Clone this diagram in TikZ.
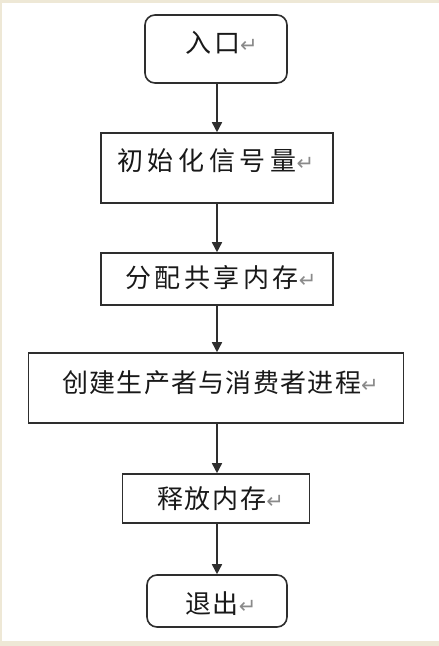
\documentclass[tikz,border=0pt]{standalone}
\usepackage{fontspec}
\newfontfamily\cjk{Noto Sans CJK SC}
\newfontfamily\dejavu{DejaVu Sans}
\usetikzlibrary{arrows.meta}
\definecolor{framebg}{HTML}{EEE8D6}
\definecolor{linec}{HTML}{2E2E2E}
\definecolor{retc}{HTML}{8A8A8A}
\newcommand{\retmark}{{\dejavu\fontsize{21pt}{21pt}\selectfont\textcolor{retc}{↵}}}
\newcommand{\lspc}[1]{\addfontfeature{LetterSpace=#1}}
\begin{document}
\begin{tikzpicture}[x=1pt,y=-1pt,
  boxs/.style={draw=linec,line width=1.6pt,inner sep=0pt},
  rbox/.style={boxs,rounded corners=10pt},
  lbl/.style={anchor=west,inner sep=0pt,font=\cjk\fontsize{26pt}{26pt}\selectfont,text=black!90},
  flow/.style={draw=linec,line width=1.6pt,-{Triangle[width=10pt,length=10pt]}}]
\useasboundingbox (0,0) rectangle (439,646);
\fill[framebg] (0,0) rectangle (439,646);
\fill[white] (2,3) rectangle (439,641);
% boxes
\node[rbox,minimum width=142pt,minimum height=68pt] (entry) at (216,49) {};
\node[boxs,minimum width=232pt,minimum height=70pt] (init) at (217,168) {};
\node[boxs,minimum width=232pt,minimum height=52pt] (alloc) at (217,279) {};
\node[boxs,minimum width=375pt,minimum height=70pt] (create) at (216,388) {};
\node[boxs,minimum width=187pt,minimum height=49pt] (release) at (216,498.5) {};
\node[rbox,minimum width=140pt,minimum height=52pt] (exit) at (217,601) {};
% labels
\node[lbl] (t1) at (185,43) {\lspc{11.5}入口\retmark};
\node[lbl] (t2) at (117,161) {\lspc{18}初始化信号量\retmark};
\node[lbl] (t3) at (125,278) {\lspc{13.5}分配共享内存\retmark};
\node[lbl] (t4) at (62,383) {\lspc{5}创建生产者与消费者进程\retmark};
\node[lbl] (t5) at (157,499) {\lspc{6.5}释放内存\retmark};
\node[lbl] (t6) at (185,604) {\lspc{6}退出\retmark};
% connectors
\draw[flow] (entry.south -| init.north) -- (init.north);
\draw[flow] (init) -- (alloc);
\draw[flow] (alloc.south) -- (alloc.south |- create.north);
\draw[flow] (create.south -| alloc.south) -- (alloc.south |- release.north);
\draw[flow] (release.south -| alloc.south) -- (alloc.south |- exit.north);
\end{tikzpicture}
\end{document}
